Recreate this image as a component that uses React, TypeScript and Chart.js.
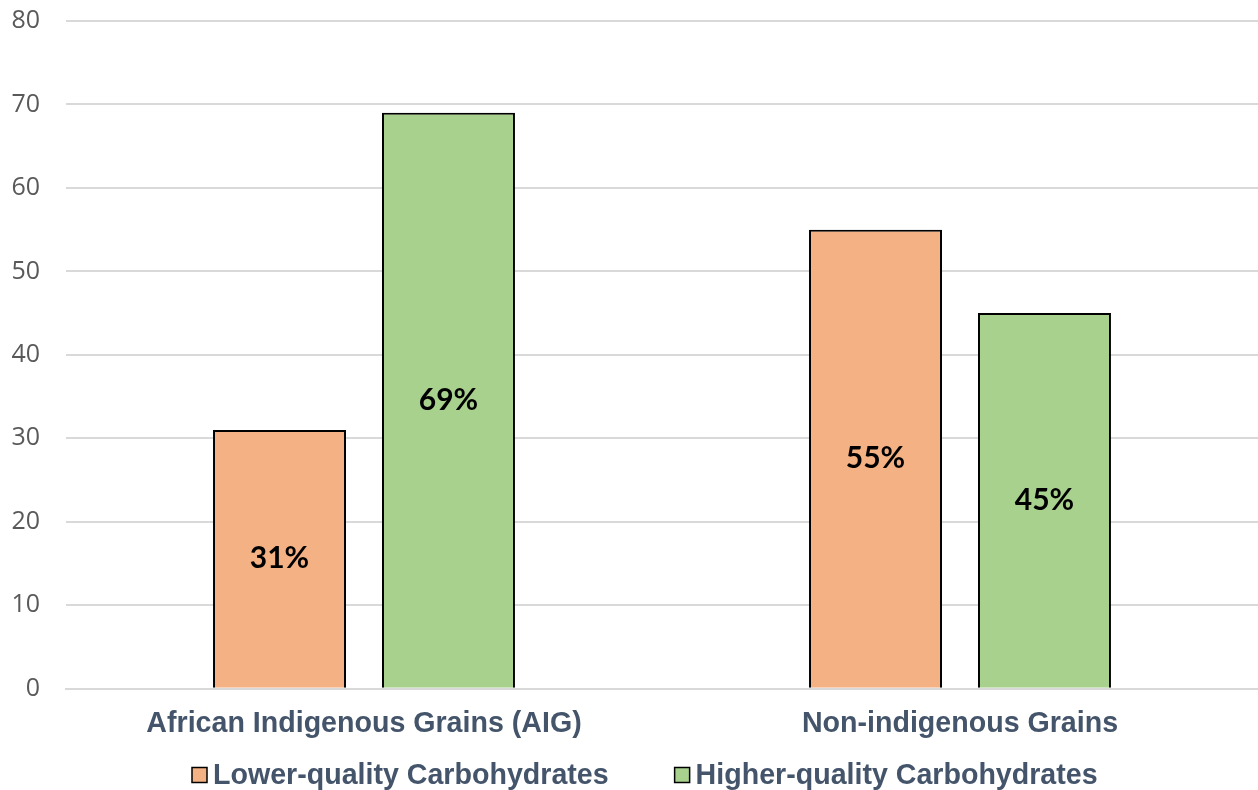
import React, { useEffect, useRef } from "react";
import { Chart, registerables } from "chart.js";

Chart.register(...registerables);

const categories = ["African Indigenous Grains (AIG)", "Non-indigenous Grains"];
const seriesNames = ["Lower-quality Carbohydrates", "Higher-quality Carbohydrates"];
const lowerQuality = [31, 55];
const higherQuality = [69, 45];
const seriesColors = ["#F4B183", "#A9D18E"];
const yTicks = [0, 10, 20, 30, 40, 50, 60, 70, 80];

const labelColor = "#44546A";
const sansFamily = "'Liberation Sans', Arial, sans-serif";
const boldSize = 28.6;

// Writes each bar's value as a percentage in the middle of the bar
const barValueLabels = {
  id: "barValueLabels",
  afterDatasetsDraw(chart: any) {
    const ctx = chart.ctx;
    ctx.save();
    ctx.font = "bold 30px Lato, 'Open Sans', sans-serif";
    ctx.fillStyle = "#000000";
    ctx.textAlign = "center";
    ctx.textBaseline = "middle";
    chart.data.datasets.forEach((ds: any, di: number) => {
      const meta = chart.getDatasetMeta(di);
      meta.data.forEach((bar: any, i: number) => {
        const v = ds.data[i];
        const y = (bar.y + bar.base) / 2;
        ctx.fillText(`${v}%`, bar.x, y);
      });
    });
    ctx.restore();
  },
};

// Legend row along the bottom: square swatch, short gap, series name
const bottomLegend = {
  id: "bottomLegend",
  afterDraw(chart: any) {
    const ctx = chart.ctx;
    const box = 15;
    const gap = 6;
    const spacing = 66;
    const centerX = chart.width / 2 + 16;
    const centerY = chart.height - 15;
    ctx.save();
    ctx.font = `bold ${boldSize}px ${sansFamily}`;
    const items = chart.data.datasets.map((ds: any) => ({
      text: ds.label,
      color: ds.backgroundColor,
      w: ctx.measureText(ds.label).width,
    }));
    const total =
      items.reduce((s: number, it: any) => s + box + gap + it.w, 0) + spacing * (items.length - 1);
    let x = Math.round(centerX - total / 2);
    items.forEach((it: any) => {
      ctx.fillStyle = it.color;
      ctx.fillRect(x, centerY - box / 2, box, box);
      ctx.strokeStyle = "#000000";
      ctx.lineWidth = 1.5;
      ctx.strokeRect(x, centerY - box / 2, box, box);
      ctx.fillStyle = labelColor;
      ctx.textAlign = "left";
      ctx.textBaseline = "middle";
      ctx.fillText(it.text, x + box + gap, centerY + 1);
      x += box + gap + it.w + spacing;
    });
    ctx.restore();
  },
};

export default function App() {
  const canvasRef = useRef<HTMLCanvasElement>(null);

  useEffect(() => {
    document.body.style.margin = "0";
    const chart = new Chart(canvasRef.current!, {
      type: "bar",
      data: {
        labels: categories,
        datasets: [
          {
            label: seriesNames[0],
            data: lowerQuality,
            backgroundColor: seriesColors[0],
            borderColor: "#000000",
            borderWidth: 2,
            categoryPercentage: 0.567,
            barPercentage: 0.787,
          },
          {
            label: seriesNames[1],
            data: higherQuality,
            backgroundColor: seriesColors[1],
            borderColor: "#000000",
            borderWidth: 2,
            categoryPercentage: 0.567,
            barPercentage: 0.787,
          },
        ],
      },
      options: {
        animation: false,
        responsive: false,
        layout: { padding: { top: 21, right: 0, left: 0, bottom: 31 } },
        plugins: {
          tooltip: { enabled: false },
          legend: { display: false },
        },
        scales: {
          x: {
            grid: { display: false, drawTicks: false },
            border: { color: "#D9D9D9", width: 2 },
            ticks: {
              color: labelColor,
              padding: 18,
              font: { family: sansFamily, size: boldSize, weight: "bold" },
            },
          },
          y: {
            min: 0,
            max: 80,
            afterBuildTicks: (scale: any) => {
              scale.ticks = yTicks.map((v) => ({ value: v }));
            },
            afterFit: (scale: any) => {
              scale.width = 66;
              scale.paddingTop = 0;
              scale.paddingBottom = 0;
            },
            grid: { color: "#D9D9D9", lineWidth: 2, drawTicks: false },
            border: { display: false },
            ticks: {
              color: "#595959",
              padding: 26,
              font: { family: "'Open Sans', sans-serif", size: 25 },
            },
          },
        },
      },
      plugins: [barValueLabels, bottomLegend],
    });
    return () => chart.destroy();
  }, []);

  return (
    <div style={{ position: "fixed", left: 0, top: 0, width: 1258, height: 790, background: "#fff" }}>
      <canvas ref={canvasRef} width={1258} height={790} />
    </div>
  );
}
